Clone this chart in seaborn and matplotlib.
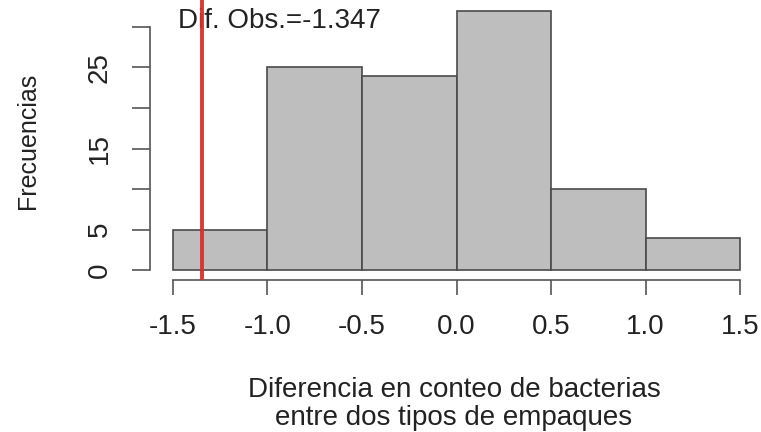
import matplotlib
matplotlib.use("Agg")
import matplotlib.pyplot as plt
import seaborn as sns
import numpy as np

# Data
bin_edges = [-1.5, -1.0, -0.5, 0.0, 0.5, 1.0, 1.5]
counts = [5, 25, 24, 32, 10, 4]
obs_diff = -1.347
x_ticks = [-1.5, -1.0, -0.5, 0.0, 0.5, 1.0, 1.5]
x_ticklabels = ["-1.5", "-1.0", "-0.5", "0.0", "0.5", "1.0", "1.5"]
y_ticks = [0, 5, 10, 15, 20, 25, 30]
y_ticklabels = ["0", "5", "", "15", "", "25", ""]

sns.set_style("white")
plt.rcParams['font.family'] = ['Liberation Sans', 'DejaVu Sans']

FS = 20
W, H = 761, 432
fig = plt.figure(figsize=(W / 100, H / 100), dpi=100)
ax = fig.add_axes([150.3 / W, 1 - 280.4 / H, (762.7 - 150.3) / W, 280.0 / H])

centers = [(a + b) / 2 for a, b in zip(bin_edges[:-1], bin_edges[1:])]
sns.histplot(x=centers, weights=counts, bins=bin_edges, ax=ax,
             color="#bebebe", edgecolor="#4a4a4a", linewidth=1.2, alpha=1.0)

ax.set_xlim(-1.62, 1.62)
ax.set_ylim(-1.28, 33.28)

ax.axvline(obs_diff, color="#d8302c", linewidth=2.8, zorder=5, alpha=0.95)
ax.text(-1.475, 30.7, "Dif. Obs.=" + f"{obs_diff:.3f}", ha="left", va="center",
        fontsize=FS, color="#222222", zorder=4)

for s in ["top", "right"]:
    ax.spines[s].set_visible(False)
for s in ["left", "bottom"]:
    ax.spines[s].set_visible(True)
    ax.spines[s].set_color("#555555")
    ax.spines[s].set_linewidth(1.2)
ax.spines["left"].set_bounds(0, 30)
ax.spines["bottom"].set_bounds(-1.5, 1.5)

ax.set_xticks(x_ticks)
ax.set_xticklabels(x_ticklabels, fontsize=FS, color="#222222")
ax.set_yticks(y_ticks)
ax.set_yticklabels(y_ticklabels, fontsize=FS, color="#222222", rotation=90, va="center")
ax.tick_params(axis="x", length=10.5, width=1.2, color="#555555", pad=14, direction="out", bottom=True)
ax.tick_params(axis="y", length=13, width=1.2, color="#555555", pad=14, direction="out", left=True)

ax.set_xlabel("")
ax.set_ylabel("")
fig.text(28 / W, 1 - 141 / H, "Frecuencias", rotation=90, ha="center", va="center",
         fontsize=18, color="#222222")
fig.text(454 / W, 1 - 404 / H, "Diferencia en conteo de bacterias\nentre dos tipos de empaques",
         ha="center", va="center", fontsize=FS, color="#222222", linespacing=1.12)

fig.savefig("out.png", dpi=100)
